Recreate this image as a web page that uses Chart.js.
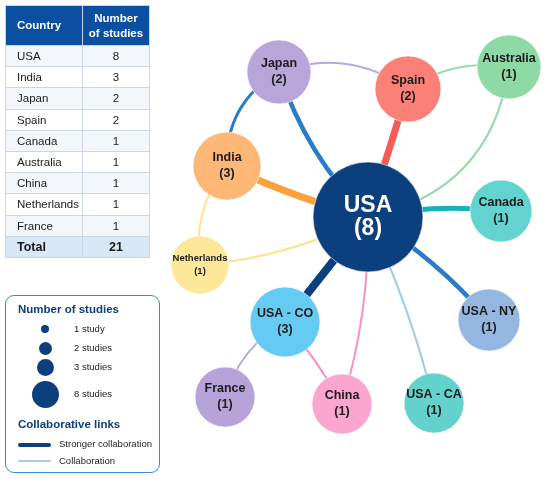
<!DOCTYPE html>
<html>
<head>
<meta charset="utf-8">
<script src="https://cdn.jsdelivr.net/npm/chart.js@4.4.1/dist/chart.umd.min.js"></script>
<style>
  html, body { margin: 0; padding: 0; background: #fff; }
  body { width: 550px; height: 482px; position: relative; overflow: hidden;
         font-family: "Liberation Sans", Arial, sans-serif; }
  #chartBox { position: absolute; left: 0; top: 0; width: 550px; height: 482px; }
  #table { position: absolute; left: 5px; top: 5px; border-collapse: collapse; width: 145px;
           font-size: 11.5px; color: #1a1a1a; z-index: 2; }
  #table th { background: #0b4fa2; color: #fff; font-weight: bold; height: 37px;
              border: 1px solid #c9d5e4; line-height: 15px; }
  #table th:first-child { text-align: left; padding-left: 11px; width: 64px; }
  #table td { height: 20.2px; border: 1px solid #cdd7e4; padding: 0; }
  #table td:first-child { padding-left: 11px; }
  #table td:last-child { text-align: center; }
  #table tr:nth-child(even) td { background: #f3f6fb; }
  #table tr.total td { background: #d9e8f8; font-weight: bold; font-size: 12.5px; }
  #legend { position: absolute; left: 5px; top: 295px; width: 155px; height: 178px;
            border: 1.5px solid #3a8ad6; border-radius: 9px; box-sizing: border-box; z-index: 2; }
  .lgTitle { position: absolute; left: 12px; font-weight: bold; font-size: 11.5px; color: #0c3f7d; }
  .lgText { position: absolute; font-size: 9.5px; color: #222; }
  .dot { position: absolute; background: #0c3f7d; border-radius: 50%; }
  .lgLine { position: absolute; left: 12px; width: 33px; border-radius: 2px; }
</style>
</head>
<body>
<div id="chartBox"><canvas id="chart" width="550" height="482"></canvas></div>
<table id="table"></table>
<div id="legend"></div>

<script>
// table data
const countries = ["USA", "India", "Japan", "Spain", "Canada", "Australia", "China", "Netherlands", "France"];
const studies = [8, 3, 2, 2, 1, 1, 1, 1, 1];
const totalLabel = "21";

// network nodes
const nodeLabels = ["USA", "India", "Japan", "Spain", "Canada", "Australia", "China", "Netherlands", "France", "USA - CO", "USA - NY", "USA - CA"];
const nodeCounts = [8, 3, 2, 2, 1, 1, 1, 1, 1, 3, 1, 1];
// layout of the network (x, y in page units)
const nodeX = [368, 227, 279, 408, 501, 509, 342, 200, 225, 285, 489, 434];
const nodeY = [217, 166, 72, 89, 211, 67, 404, 265, 397, 322, 320, 403];

// network links
const linkSource = ["Japan", "Japan", "Japan", "Spain", "Spain", "Australia", "India", "India", "Netherlands", "USA", "USA", "USA", "USA", "USA", "USA - CO", "USA - CO"];
const linkTarget = ["USA", "India", "Spain", "USA", "Australia", "USA", "USA", "Netherlands", "USA", "Canada", "USA - NY", "USA - CO", "China", "USA - CA", "France", "China"];

// styles
const nodeColors = ["#0c3f7d", "#fdb878", "#b8a6db", "#fa8078", "#62d3cf", "#8fd9a5", "#fba6cf", "#fde798", "#b7a3d7", "#66cbf2", "#93b7e1", "#64d2cc"];
const nodeRadius = [55, 34, 32, 33, 31, 32, 30, 29, 30, 35, 31, 30];
const linkColors = ["#2a7bc8", "#2a7bc8", "#b9a6dd", "#f75b54", "#92dbab", "#92dbab", "#f9a23b", "#fde58e", "#fde58e", "#14b3b6", "#2a7bc8", "#0c3f7d", "#f793c2", "#9fcbe9", "#b9a6dd", "#f793c2"];
const linkWidths = [4.5, 3, 2, 7, 2, 2, 7, 2, 2, 5, 4.5, 8, 2, 2, 2, 2];
const linkBend = [0.12, 0.3, -0.26, 0, -0.2, -0.35, 0.05, 0.22, 0.1, -0.08, -0.08, 0, -0.08, -0.05, 0.2, -0.05];

// ---- table ----
const table = document.getElementById("table");
let html = "<tr><th>Country</th><th>Number<br>of studies</th></tr>";
countries.forEach((c, i) => {
    html += `<tr><td>${c}</td><td>${studies[i]}</td></tr>`;
});
html += `<tr class="total"><td>Total</td><td>${totalLabel}</td></tr>`;
table.innerHTML = html;

// ---- legend ----
const legend = document.getElementById("legend");
const legendSizes = [8, 13, 17, 27];
const legendTexts = ["1 study", "2 studies", "3 studies", "8 studies"];
const legendY = [33, 52, 71, 98];
let lg = `<div class="lgTitle" style="top:7px">Number of studies</div>`;
legendSizes.forEach((s, i) => {
    lg += `<div class="dot" style="left:${39 - s / 2}px;top:${legendY[i] - s / 2}px;width:${s}px;height:${s}px"></div>`;
    lg += `<div class="lgText" style="left:68px;top:${legendY[i] - 6}px">${legendTexts[i]}</div>`;
});
lg += `<div class="lgTitle" style="top:122px">Collaborative links</div>`;
lg += `<div class="lgLine" style="top:147px;height:3.5px;background:#0c3f7d"></div>`;
lg += `<div class="lgText" style="left:53px;top:142px">Stronger collaboration</div>`;
lg += `<div class="lgLine" style="top:164px;height:2px;background:#a9cbeb"></div>`;
lg += `<div class="lgText" style="left:53px;top:159px">Collaboration</div>`;
legend.innerHTML = lg;

// ---- links plugin ----
const linkPlugin = {
    id: "links",
    beforeDatasetsDraw(chart) {
        const ctx = chart.ctx;
        const xs = chart.scales.x, ys = chart.scales.y;
        ctx.save();
        linkSource.forEach((s, i) => {
            const a = nodeLabels.indexOf(s), b = nodeLabels.indexOf(linkTarget[i]);
            const x1 = xs.getPixelForValue(nodeX[a]), y1 = ys.getPixelForValue(nodeY[a]);
            const x2 = xs.getPixelForValue(nodeX[b]), y2 = ys.getPixelForValue(nodeY[b]);
            const dx = x2 - x1, dy = y2 - y1;
            const cx = (x1 + x2) / 2 - dy * linkBend[i];
            const cy = (y1 + y2) / 2 + dx * linkBend[i];
            ctx.beginPath();
            ctx.moveTo(x1, y1);
            ctx.quadraticCurveTo(cx, cy, x2, y2);
            ctx.strokeStyle = linkColors[i];
            ctx.lineWidth = linkWidths[i];
            ctx.lineCap = "round";
            ctx.stroke();
        });
        ctx.restore();
    },
    afterDatasetsDraw(chart) {
        const ctx = chart.ctx;
        const xs = chart.scales.x, ys = chart.scales.y;
        ctx.save();
        ctx.textAlign = "center";
        ctx.textBaseline = "middle";
        nodeLabels.forEach((name, i) => {
            const x = xs.getPixelForValue(nodeX[i]), y = ys.getPixelForValue(nodeY[i]);
            let size = 12.5, gap = 8;
            if (name === "USA") { size = 23; gap = 11.5; }
            if (name === "Netherlands") { size = 9.5; gap = 6.5; }
            ctx.font = `bold ${size}px "Liberation Sans", Arial, sans-serif`;
            ctx.fillStyle = name === "USA" ? "#ffffff" : "#1c1c1c";
            ctx.fillText(name, x, y - gap);
            ctx.fillText("(" + nodeCounts[i] + ")", x, y + gap);
        });
        ctx.restore();
    }
};

new Chart(document.getElementById("chart"), {
    type: "bubble",
    data: {
        datasets: [{
            data: nodeLabels.map((n, i) => ({ x: nodeX[i], y: nodeY[i], r: nodeRadius[i] })),
            backgroundColor: nodeColors,
            borderColor: "rgba(255,255,255,0.6)",
            borderWidth: 1,
            hoverRadius: 0,
            clip: false
        }]
    },
    options: {
        responsive: false,
        animation: false,
        layout: { padding: 0, autoPadding: false },
        events: [],
        scales: {
            x: { type: "linear", min: 0, max: 550, display: false },
            y: { type: "linear", min: 0, max: 482, reverse: true, display: false }
        },
        plugins: {
            legend: { display: false },
            tooltip: { enabled: false }
        }
    },
    plugins: [linkPlugin]
});
</script>
</body>
</html>
